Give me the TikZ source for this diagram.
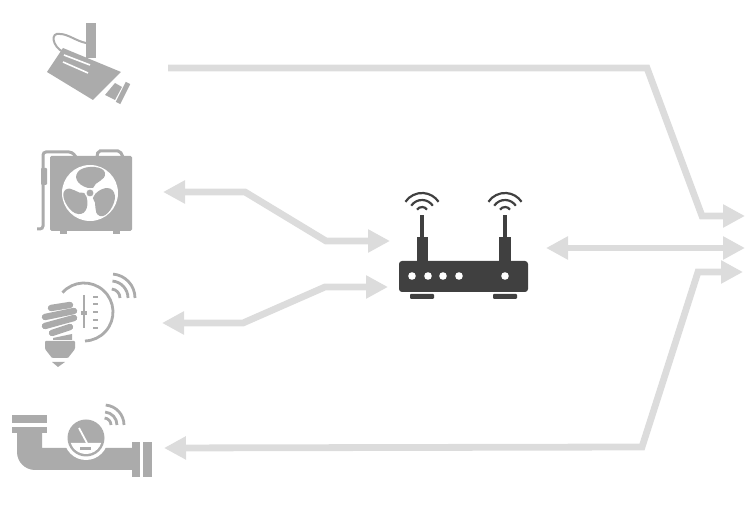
\documentclass[tikz,border=0pt]{standalone}
\usepackage{xcolor}
\usepackage{tikz}
\usetikzlibrary{arrows.meta}
\definecolor{linkgray}{HTML}{DCDCDC}
\definecolor{icongray}{HTML}{ABABAB}
\definecolor{routerdark}{HTML}{404040}
\begin{document}
\begin{tikzpicture}[
  x=1pt, y=1pt,
  arr/.style   = {-{Triangle[length=22pt,width=22pt]}, line width=6.8pt, color=linkgray},
  biarr/.style = {{Triangle[length=22pt,width=22pt]}-{Triangle[length=22pt,width=22pt]}, line width=6.8pt, color=linkgray},
  icon/.style  = {fill=icongray},
  cutout/.style = {fill=white},
  wave/.style  = {draw=icongray, line width=2.8pt},
  rwave/.style = {draw=routerdark, line width=2.2pt},
  rbody/.style = {fill=routerdark},
]
\useasboundingbox (0,0) rectangle (752,510);
%%--- Link end points ---
\coordinate (camstart) at (168,442);
\coordinate (camb1)    at (647,442);
\coordinate (camb2)    at (702,294);
\coordinate (camtip)   at (745,294);
\coordinate (fantip)   at (163,318);
\coordinate (fanb1)    at (245,318);
\coordinate (fanb2)    at (326,269);
\coordinate (fanin)    at (390,269);
\coordinate (lamptip)  at (162,187);
\coordinate (lampb1)   at (243,187);
\coordinate (lampb2)   at (325,223);
\coordinate (lampin)   at (388,223);
\coordinate (metertip) at (164,62);
\coordinate (meterb1)  at (642,63);
\coordinate (meterb2)  at (698,238);
\coordinate (metein)   at (743,238);
\coordinate (uplinkl)  at (546,262);
\coordinate (uplinkr)  at (745,262);
%%--- Links ---
\draw[arr] (camstart)--(camb1)--(camb2)--(camtip);
\draw[biarr] (fantip)--(fanb1)--(fanb2)--(fanin);
\draw[biarr] (lamptip)--(lampb1)--(lampb2)--(lampin);
\draw[biarr] (metertip)--(meterb1)--(meterb2)--(metein);
\draw[biarr] (uplinkl)--(uplinkr);
%%--- Camera ---
\fill[icon] (86,452) rectangle (96,487);
\fill[icon] (47,438) -- (63,462) -- (121,438) -- (93,410) -- cycle;
\draw[white, line width=1.6pt] (64,455) -- (90,445);
\draw[white, line width=1.6pt] (63,448) -- (88,437);
\fill[icon] (105,415) -- (115,427) -- (122,423) -- (115,410) -- cycle;
\draw[icongray, line width=5pt] (128,427) -- (118,407);
\draw[icongray, line width=2pt] (63,458) .. controls (52,464) and (50,478) .. (60,476) .. controls (68,476) and (76,469) .. (86,467);
%%--- Fan ---
\fill[icon, rounded corners=1.5pt] (50,279) rectangle (132,354);
\fill[icon] (60,276) rectangle (67,280);
\fill[icon] (113,276) rectangle (120,280);
\draw[icongray, line width=3pt, rounded corners=3pt] (37,281) -- (43,281) -- (43,358) -- (72,358) -- (76,353);
\draw[icongray, line width=3pt, rounded corners=2pt] (97,353) -- (98,359) -- (120,359) -- (123,353);
\fill[icon, rounded corners=1pt] (41,325) rectangle (47,342);
\fill[cutout] (90,317) circle (28);
\foreach \ang in {0,120,240} {
  \fill[icon, rotate around={\ang:(90,317)}] (88,322) .. controls (77,325) and (72,334) .. (80,340)
    .. controls (87,345) and (104,344) .. (105,337) .. controls (106,329) and (95,329) .. (93,322) -- cycle;
}
\fill[icon, draw=white, thick] (90,317) circle (4);
%%--- Lamp ---
\foreach \xa/\ya/\xb/\yb in {51/202/70/205, 45/193/74/199, 45/184/74/192, 52/177/70/183} {
  \draw[icongray, line width=6.4pt, line cap=round] (\xa,\ya) -- (\xb,\yb);
}
\fill[icon] (53,172) -- (72,176) -- (72,170) -- (53,170) -- cycle;
\fill[icon, rounded corners=1pt] (45,169) -- (75,169) -- (75,161) -- (68,152) -- (52,152) -- (45,161) -- cycle;
\fill[icon] (52,148) -- (65,148) -- (58,143) -- cycle;
\draw[wave] (84,198) ++(138:29) arc (138:-88:29);
\draw[icongray, line width=1.6pt] (84,215) -- (84,182);
\fill[icongray] (81,195) rectangle (87,199);
\foreach \dy in {213,206,198,190,182} {
  \draw[icongray, line width=2pt] (93,\dy) -- (98,\dy);
}
\foreach \rad in {9,17,24} {
  \draw[wave] (111,212) ++(85:\rad) arc (85:0:\rad);
}
%%--- Meter ---
\fill[icon] (12,87) rectangle (47,95);
\fill[icon] (12,77) rectangle (47,83);
\fill[icon] (17,77) -- (17,58) arc (180:270:18) -- (132,40) -- (132,62) -- (42,62) -- (42,77) -- cycle;
\fill[icon] (132,33) rectangle (140,68);
\fill[icon] (143,33) rectangle (152,68);
\fill[cutout] (86,72) circle (22);
\fill[icon] (86,72) circle (18.5);
\draw[white, line width=1.8pt] (79,82) -- (87,67);
\fill[cutout] (86,72) ++(198:16) arc (198:342:16) -- cycle;
\fill[icon] (80,60) rectangle (91,63);
\foreach \rad in {7,13,20} {
  \draw[wave] (104,85) ++(85:\rad) arc (85:0:\rad);
}
%%--- Router ---
\fill[rbody, rounded corners=3pt] (399,218) rectangle (528,249);
\fill[rbody] (417,249) rectangle (428,273);
\fill[rbody] (420,273) rectangle (424,295);
\fill[rbody] (499,249) rectangle (511,273);
\fill[rbody] (503,273) rectangle (507,295);
\fill[rbody, rounded corners=1pt] (410,211) rectangle (434,216);
\fill[rbody, rounded corners=1pt] (493,211) rectangle (517,216);
\foreach \dotx in {412,428,443,459,505} {
  \fill[cutout] (\dotx,234) circle (3.8);
}
\foreach \antx in {422,505} {
  \foreach \rad in {6,13,20} {
    \draw[rwave] (\antx,297) ++(146:\rad) arc (146:34:\rad);
  }
}
\end{tikzpicture}
\end{document}
